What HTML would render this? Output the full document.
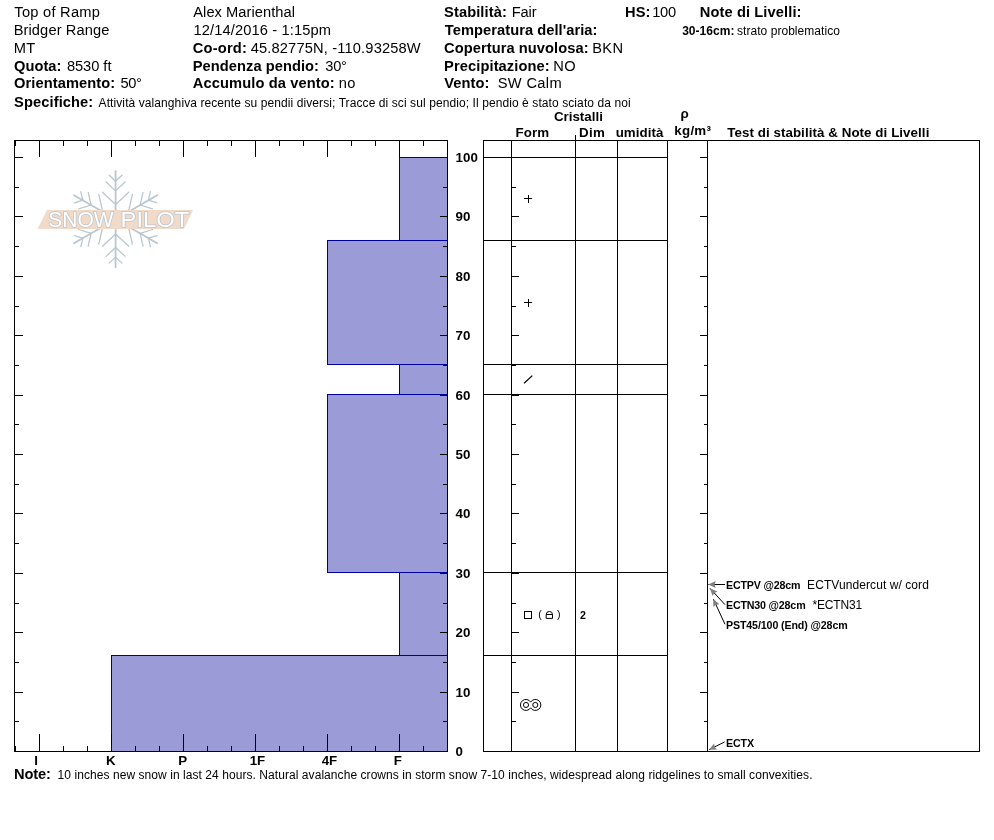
<!DOCTYPE html><html><head><meta charset="utf-8"><title>Snow Profile</title>
<style>html,body{margin:0;padding:0;background:#fff}body{width:994px;height:840px;overflow:hidden}svg{display:block}text{font-family:"Liberation Sans",Arial,sans-serif;fill:#000}.b{font-weight:bold}.l{stroke:#000;stroke-width:1;shape-rendering:crispEdges;fill:none}</style></head><body>
<svg width="994" height="840" viewBox="0 0 994 840">
<rect width="994" height="840" fill="#fff"/>
<text x="14.35" y="16.8" font-size="14.67" letter-spacing="0.245" xml:space="preserve">Top of Ramp</text>
<text x="13.65" y="34.7" font-size="14.67" letter-spacing="0.104" xml:space="preserve">Bridger Range</text>
<text x="13.65" y="52.7" font-size="14.67" letter-spacing="0.300" xml:space="preserve">MT</text>
<text x="14.10" y="70.6" font-size="14.67" class="b" letter-spacing="0.010" xml:space="preserve">Quota:</text>
<text x="66.90" y="70.6" font-size="14.67" letter-spacing="-0.042" xml:space="preserve">8530 ft</text>
<text x="14.10" y="88.4" font-size="14.67" class="b" letter-spacing="0.071" xml:space="preserve">Orientamento:</text>
<text x="120.50" y="88.4" font-size="14.67" letter-spacing="-0.350" xml:space="preserve">50°</text>
<text x="14.10" y="106.5" font-size="14.67" class="b" letter-spacing="0.095" xml:space="preserve">Specifiche:</text>
<text x="98.60" y="106.5" font-size="12" letter-spacing="0.088" xml:space="preserve">Attività valanghiva recente su pendii diversi; Tracce di sci sul pendio; Il pendio è stato sciato da noi</text>
<text x="193.30" y="16.8" font-size="14.67" letter-spacing="0.043" xml:space="preserve">Alex Marienthal</text>
<text x="193.60" y="34.7" font-size="14.67" letter-spacing="0.114" xml:space="preserve">12/14/2016 - 1:15pm</text>
<text x="192.80" y="52.7" font-size="14.67" class="b" letter-spacing="0.183" xml:space="preserve">Co-ord:</text>
<text x="250.65" y="52.7" font-size="14.67" letter-spacing="0.157" xml:space="preserve">45.82775N, -110.93258W</text>
<text x="192.80" y="70.6" font-size="14.67" class="b" letter-spacing="0.047" xml:space="preserve">Pendenza pendio:</text>
<text x="325.30" y="70.6" font-size="14.67" letter-spacing="-0.275" xml:space="preserve">30°</text>
<text x="192.80" y="88.4" font-size="14.67" class="b" letter-spacing="0.109" xml:space="preserve">Accumulo da vento:</text>
<text x="338.70" y="88.4" font-size="14.67" letter-spacing="0.300" xml:space="preserve">no</text>
<text x="444.10" y="16.8" font-size="14.67" class="b" letter-spacing="0.089" xml:space="preserve">Stabilità:</text>
<text x="511.75" y="16.8" font-size="14.67" letter-spacing="-0.117" xml:space="preserve">Fair</text>
<text x="444.85" y="34.7" font-size="14.67" class="b" letter-spacing="0.055" xml:space="preserve">Temperatura dell'aria:</text>
<text x="444.10" y="52.7" font-size="14.67" class="b" letter-spacing="0.061" xml:space="preserve">Copertura nuvolosa:</text>
<text x="592.25" y="52.7" font-size="14.67" letter-spacing="0.300" xml:space="preserve">BKN</text>
<text x="444.10" y="70.6" font-size="14.67" class="b" letter-spacing="0.096" xml:space="preserve">Precipitazione:</text>
<text x="553.25" y="70.6" font-size="14.67" letter-spacing="0.300" xml:space="preserve">NO</text>
<text x="444.35" y="88.4" font-size="14.67" class="b" letter-spacing="0.040" xml:space="preserve">Vento:</text>
<text x="497.65" y="88.4" font-size="14.67" letter-spacing="0.358" xml:space="preserve">SW Calm</text>
<text x="625.10" y="16.8" font-size="14.67" class="b" letter-spacing="-0.025" xml:space="preserve">HS:</text>
<text x="652.30" y="16.8" font-size="14.67" letter-spacing="-0.350" xml:space="preserve">100</text>
<text x="699.70" y="16.8" font-size="14.67" class="b" letter-spacing="0.110" xml:space="preserve">Note di Livelli:</text>
<text x="682.15" y="34.8" font-size="12" class="b" letter-spacing="0.036" xml:space="preserve">30-16cm:</text>
<text x="737.05" y="34.8" font-size="12" letter-spacing="0.042" xml:space="preserve">strato problematico</text>
<text x="14.10" y="778.7" font-size="14.67" class="b" letter-spacing="-0.150" xml:space="preserve">Note:</text>
<text x="57.60" y="778.7" font-size="12" letter-spacing="0.062" xml:space="preserve">10 inches new snow in last 24 hours. Natural avalanche crowns in storm snow 7-10 inches, widespread along ridgelines to small convexities.</text>
<text x="553.90" y="121.2" font-size="13.33" class="b" letter-spacing="0.013" xml:space="preserve">Cristalli</text>
<text x="515.45" y="137.0" font-size="13.33" class="b" letter-spacing="0.150" xml:space="preserve">Form</text>
<text x="579.05" y="137.0" font-size="13.33" class="b" letter-spacing="0.300" xml:space="preserve">Dim</text>
<text x="615.65" y="137.0" font-size="13.33" class="b" letter-spacing="0.058" xml:space="preserve">umidità</text>
<text x="680.55" y="118.0" font-size="13.33" class="b" xml:space="preserve">ρ</text>
<text x="674.30" y="134.6" font-size="13.33" class="b" letter-spacing="0.263" xml:space="preserve">kg/m³</text>
<text x="727.20" y="137.1" font-size="13.33" class="b" letter-spacing="0.072" xml:space="preserve">Test di stabilità &amp; Note di Livelli</text>
<text x="725.95" y="588.9" font-size="10.67" class="b" letter-spacing="-0.165" xml:space="preserve">ECTPV @28cm</text>
<text x="807.10" y="588.9" font-size="12" letter-spacing="0.079" xml:space="preserve">ECTVundercut w/ cord</text>
<text x="725.95" y="608.7" font-size="10.67" class="b" letter-spacing="-0.164" xml:space="preserve">ECTN30 @28cm</text>
<text x="812.45" y="608.7" font-size="12" letter-spacing="-0.158" xml:space="preserve">*ECTN31</text>
<text x="725.95" y="628.6" font-size="10.67" class="b" letter-spacing="-0.118" xml:space="preserve">PST45/100 (End) @28cm</text>
<text x="725.95" y="746.9" font-size="10.67" class="b" letter-spacing="-0.100" xml:space="preserve">ECTX</text>
<text x="34.35" y="764.9" font-size="13.33" class="b" xml:space="preserve">I</text>
<text x="106.05" y="764.9" font-size="13.33" class="b" xml:space="preserve">K</text>
<text x="178.25" y="764.9" font-size="13.33" class="b" xml:space="preserve">P</text>
<text x="249.85" y="764.9" font-size="13.33" class="b" letter-spacing="-0.350" xml:space="preserve">1F</text>
<text x="321.85" y="764.9" font-size="13.33" class="b" letter-spacing="-0.350" xml:space="preserve">4F</text>
<text x="393.75" y="764.9" font-size="13.33" class="b" xml:space="preserve">F</text>
<text x="580.05" y="619.0" font-size="10.67" class="b" xml:space="preserve">2</text>
<g id="logo">
<g stroke="#b9c7d0" stroke-width="1.3" stroke-linecap="round" fill="none">
<line x1="115.6" y1="219.2" x2="115.6" y2="171.2" stroke-width="1.8"/>
<line x1="115.6" y1="204.4" x2="128.7" y2="192.2"/>
<line x1="115.6" y1="204.4" x2="102.5" y2="192.2"/>
<line x1="115.6" y1="190.9" x2="125.1" y2="182.0"/>
<line x1="115.6" y1="190.9" x2="106.1" y2="182.0"/>
<line x1="115.6" y1="181.3" x2="122.0" y2="175.3"/>
<line x1="115.6" y1="181.3" x2="109.2" y2="175.3"/>
<line x1="115.6" y1="219.2" x2="157.2" y2="195.2" stroke-width="1.8"/>
<line x1="128.4" y1="211.8" x2="145.5" y2="217.0"/>
<line x1="128.4" y1="211.8" x2="132.4" y2="194.4"/>
<line x1="140.1" y1="205.0" x2="152.5" y2="208.9"/>
<line x1="140.1" y1="205.0" x2="143.0" y2="192.4"/>
<line x1="148.4" y1="200.2" x2="156.8" y2="202.8"/>
<line x1="148.4" y1="200.2" x2="150.4" y2="191.7"/>
<line x1="115.6" y1="219.2" x2="74.0" y2="195.2" stroke-width="1.8"/>
<line x1="102.8" y1="211.8" x2="98.8" y2="194.4"/>
<line x1="102.8" y1="211.8" x2="85.7" y2="217.0"/>
<line x1="91.1" y1="205.0" x2="88.2" y2="192.4"/>
<line x1="91.1" y1="205.0" x2="78.7" y2="208.9"/>
<line x1="82.8" y1="200.2" x2="80.8" y2="191.7"/>
<line x1="82.8" y1="200.2" x2="74.4" y2="202.8"/>
<line x1="115.6" y1="219.2" x2="74.0" y2="243.2" stroke-width="1.8"/>
<line x1="102.8" y1="226.6" x2="85.7" y2="221.4"/>
<line x1="102.8" y1="226.6" x2="98.8" y2="244.0"/>
<line x1="91.1" y1="233.3" x2="78.7" y2="229.5"/>
<line x1="91.1" y1="233.3" x2="88.2" y2="246.0"/>
<line x1="82.8" y1="238.1" x2="74.4" y2="235.6"/>
<line x1="82.8" y1="238.1" x2="80.8" y2="246.7"/>
<line x1="115.6" y1="219.2" x2="115.6" y2="267.2" stroke-width="1.8"/>
<line x1="115.6" y1="234.0" x2="102.5" y2="246.2"/>
<line x1="115.6" y1="234.0" x2="128.7" y2="246.2"/>
<line x1="115.6" y1="247.5" x2="106.1" y2="256.4"/>
<line x1="115.6" y1="247.5" x2="125.1" y2="256.4"/>
<line x1="115.6" y1="257.1" x2="109.2" y2="263.1"/>
<line x1="115.6" y1="257.1" x2="122.0" y2="263.1"/>
<line x1="115.6" y1="219.2" x2="157.2" y2="243.2" stroke-width="1.8"/>
<line x1="128.4" y1="226.6" x2="132.4" y2="244.0"/>
<line x1="128.4" y1="226.6" x2="145.5" y2="221.4"/>
<line x1="140.1" y1="233.3" x2="143.0" y2="246.0"/>
<line x1="140.1" y1="233.3" x2="152.5" y2="229.5"/>
<line x1="148.4" y1="238.2" x2="150.4" y2="246.7"/>
<line x1="148.4" y1="238.2" x2="156.8" y2="235.6"/>
</g>
<polygon points="47,210 193,210 184,229 37.5,229" fill="#f1dac8"/>
<text y="227.4" font-size="22" style="fill:#fff;stroke:#bcc4cb;stroke-width:1.5;font-weight:normal;paint-order:stroke"><tspan x="48.3" textLength="65.3" lengthAdjust="spacingAndGlyphs">SNOW</tspan> <tspan x="120.6" textLength="68.6" lengthAdjust="spacingAndGlyphs">PILOT</tspan></text>
</g>
<rect x="399.5" y="157.5" width="48.0" height="83.0" fill="#9b9bd7" stroke="#0000a0" stroke-width="1" shape-rendering="crispEdges"/>
<rect x="327.5" y="240.5" width="120.0" height="124.0" fill="#9b9bd7" stroke="#0000a0" stroke-width="1" shape-rendering="crispEdges"/>
<rect x="399.5" y="364.5" width="48.0" height="30.0" fill="#9b9bd7" stroke="#0000a0" stroke-width="1" shape-rendering="crispEdges"/>
<rect x="327.5" y="394.5" width="120.0" height="178.0" fill="#9b9bd7" stroke="#0000a0" stroke-width="1" shape-rendering="crispEdges"/>
<rect x="399.5" y="572.5" width="48.0" height="83.0" fill="#9b9bd7" stroke="#0000a0" stroke-width="1" shape-rendering="crispEdges"/>
<rect x="111.5" y="655.5" width="336.0" height="96.0" fill="#9b9bd7" stroke="#0000a0" stroke-width="1" shape-rendering="crispEdges"/>
<line class="l" x1="14" x2="448" y1="140.5" y2="140.5"/>
<line class="l" x1="14" x2="448" y1="751.5" y2="751.5"/>
<line class="l" x1="14.5" x2="14.5" y1="140" y2="752"/>
<line class="l" x1="447.5" x2="447.5" y1="140" y2="752"/>
<line class="l" x1="15.5" x2="15.5" y1="140" y2="146"/>
<line class="l" x1="15.5" x2="15.5" y1="746" y2="751"/>
<line class="l" x1="39.5" x2="39.5" y1="140" y2="157"/>
<line class="l" x1="39.5" x2="39.5" y1="734" y2="751"/>
<line class="l" x1="63.5" x2="63.5" y1="140" y2="146"/>
<line class="l" x1="63.5" x2="63.5" y1="746" y2="751"/>
<line class="l" x1="87.5" x2="87.5" y1="140" y2="146"/>
<line class="l" x1="87.5" x2="87.5" y1="746" y2="751"/>
<line class="l" x1="111.5" x2="111.5" y1="140" y2="157"/>
<line class="l" x1="111.5" x2="111.5" y1="734" y2="751"/>
<line class="l" x1="135.5" x2="135.5" y1="140" y2="146"/>
<line class="l" x1="135.5" x2="135.5" y1="746" y2="751"/>
<line class="l" x1="159.5" x2="159.5" y1="140" y2="146"/>
<line class="l" x1="159.5" x2="159.5" y1="746" y2="751"/>
<line class="l" x1="183.5" x2="183.5" y1="140" y2="157"/>
<line class="l" x1="183.5" x2="183.5" y1="734" y2="751"/>
<line class="l" x1="207.5" x2="207.5" y1="140" y2="146"/>
<line class="l" x1="207.5" x2="207.5" y1="746" y2="751"/>
<line class="l" x1="231.5" x2="231.5" y1="140" y2="146"/>
<line class="l" x1="231.5" x2="231.5" y1="746" y2="751"/>
<line class="l" x1="255.5" x2="255.5" y1="140" y2="157"/>
<line class="l" x1="255.5" x2="255.5" y1="734" y2="751"/>
<line class="l" x1="279.5" x2="279.5" y1="140" y2="146"/>
<line class="l" x1="279.5" x2="279.5" y1="746" y2="751"/>
<line class="l" x1="303.5" x2="303.5" y1="140" y2="146"/>
<line class="l" x1="303.5" x2="303.5" y1="746" y2="751"/>
<line class="l" x1="327.5" x2="327.5" y1="140" y2="157"/>
<line class="l" x1="327.5" x2="327.5" y1="734" y2="751"/>
<line class="l" x1="351.5" x2="351.5" y1="140" y2="146"/>
<line class="l" x1="351.5" x2="351.5" y1="746" y2="751"/>
<line class="l" x1="375.5" x2="375.5" y1="140" y2="146"/>
<line class="l" x1="375.5" x2="375.5" y1="746" y2="751"/>
<line class="l" x1="399.5" x2="399.5" y1="140" y2="157"/>
<line class="l" x1="399.5" x2="399.5" y1="734" y2="751"/>
<line class="l" x1="423.5" x2="423.5" y1="140" y2="146"/>
<line class="l" x1="423.5" x2="423.5" y1="746" y2="751"/>
<line class="l" x1="447.5" x2="447.5" y1="140" y2="146"/>
<line class="l" x1="447.5" x2="447.5" y1="746" y2="751"/>
<line class="l" x1="14" x2="19" y1="721.5" y2="721.5"/>
<line class="l" x1="443" x2="447" y1="721.5" y2="721.5"/>
<line class="l" x1="14" x2="23" y1="692.5" y2="692.5"/>
<line class="l" x1="440" x2="447" y1="692.5" y2="692.5"/>
<line class="l" x1="14" x2="19" y1="662.5" y2="662.5"/>
<line class="l" x1="443" x2="447" y1="662.5" y2="662.5"/>
<line class="l" x1="14" x2="23" y1="632.5" y2="632.5"/>
<line class="l" x1="440" x2="447" y1="632.5" y2="632.5"/>
<line class="l" x1="14" x2="19" y1="603.5" y2="603.5"/>
<line class="l" x1="443" x2="447" y1="603.5" y2="603.5"/>
<line class="l" x1="14" x2="23" y1="573.5" y2="573.5"/>
<line class="l" x1="440" x2="447" y1="573.5" y2="573.5"/>
<line class="l" x1="14" x2="19" y1="543.5" y2="543.5"/>
<line class="l" x1="443" x2="447" y1="543.5" y2="543.5"/>
<line class="l" x1="14" x2="23" y1="513.5" y2="513.5"/>
<line class="l" x1="440" x2="447" y1="513.5" y2="513.5"/>
<line class="l" x1="14" x2="19" y1="484.5" y2="484.5"/>
<line class="l" x1="443" x2="447" y1="484.5" y2="484.5"/>
<line class="l" x1="14" x2="23" y1="454.5" y2="454.5"/>
<line class="l" x1="440" x2="447" y1="454.5" y2="454.5"/>
<line class="l" x1="14" x2="19" y1="424.5" y2="424.5"/>
<line class="l" x1="443" x2="447" y1="424.5" y2="424.5"/>
<line class="l" x1="14" x2="23" y1="395.5" y2="395.5"/>
<line class="l" x1="440" x2="447" y1="395.5" y2="395.5"/>
<line class="l" x1="14" x2="19" y1="365.5" y2="365.5"/>
<line class="l" x1="443" x2="447" y1="365.5" y2="365.5"/>
<line class="l" x1="14" x2="23" y1="335.5" y2="335.5"/>
<line class="l" x1="440" x2="447" y1="335.5" y2="335.5"/>
<line class="l" x1="14" x2="19" y1="306.5" y2="306.5"/>
<line class="l" x1="443" x2="447" y1="306.5" y2="306.5"/>
<line class="l" x1="14" x2="23" y1="276.5" y2="276.5"/>
<line class="l" x1="440" x2="447" y1="276.5" y2="276.5"/>
<line class="l" x1="14" x2="19" y1="246.5" y2="246.5"/>
<line class="l" x1="443" x2="447" y1="246.5" y2="246.5"/>
<line class="l" x1="14" x2="23" y1="216.5" y2="216.5"/>
<line class="l" x1="440" x2="447" y1="216.5" y2="216.5"/>
<line class="l" x1="14" x2="19" y1="187.5" y2="187.5"/>
<line class="l" x1="443" x2="447" y1="187.5" y2="187.5"/>
<line class="l" x1="14" x2="23" y1="157.5" y2="157.5"/>
<line class="l" x1="440" x2="447" y1="157.5" y2="157.5"/>
<text x="455.6" y="755.7" font-size="13.33" class="b">0</text>
<text x="455.6" y="696.7" font-size="13.33" class="b">10</text>
<text x="455.6" y="636.7" font-size="13.33" class="b">20</text>
<text x="455.6" y="577.7" font-size="13.33" class="b">30</text>
<text x="455.6" y="517.7" font-size="13.33" class="b">40</text>
<text x="455.6" y="458.7" font-size="13.33" class="b">50</text>
<text x="455.6" y="399.7" font-size="13.33" class="b">60</text>
<text x="455.6" y="339.7" font-size="13.33" class="b">70</text>
<text x="455.6" y="280.7" font-size="13.33" class="b">80</text>
<text x="455.6" y="220.7" font-size="13.33" class="b">90</text>
<text x="455.6" y="161.7" font-size="13.33" class="b">100</text>
<line class="l" x1="483" x2="980" y1="140.5" y2="140.5"/>
<line class="l" x1="483" x2="980" y1="751.5" y2="751.5"/>
<line class="l" x1="483.5" x2="483.5" y1="140" y2="752"/>
<line class="l" x1="979.5" x2="979.5" y1="140" y2="752"/>
<line class="l" x1="511.5" x2="511.5" y1="140" y2="752"/>
<line class="l" x1="617.5" x2="617.5" y1="140" y2="752"/>
<line class="l" x1="667.5" x2="667.5" y1="140" y2="752"/>
<line class="l" x1="707.5" x2="707.5" y1="140" y2="752"/>
<line class="l" x1="575.5" x2="575.5" y1="135" y2="752"/>
<line class="l" x1="483" x2="667" y1="157.5" y2="157.5"/>
<line class="l" x1="483" x2="667" y1="240.5" y2="240.5"/>
<line class="l" x1="483" x2="667" y1="364.5" y2="364.5"/>
<line class="l" x1="483" x2="667" y1="394.5" y2="394.5"/>
<line class="l" x1="483" x2="667" y1="572.5" y2="572.5"/>
<line class="l" x1="483" x2="667" y1="655.5" y2="655.5"/>
<line class="l" x1="511" x2="516" y1="721.5" y2="721.5"/>
<line class="l" x1="704" x2="707" y1="721.5" y2="721.5"/>
<line class="l" x1="511" x2="519" y1="692.5" y2="692.5"/>
<line class="l" x1="700" x2="707" y1="692.5" y2="692.5"/>
<line class="l" x1="511" x2="516" y1="662.5" y2="662.5"/>
<line class="l" x1="704" x2="707" y1="662.5" y2="662.5"/>
<line class="l" x1="511" x2="519" y1="632.5" y2="632.5"/>
<line class="l" x1="700" x2="707" y1="632.5" y2="632.5"/>
<line class="l" x1="511" x2="516" y1="603.5" y2="603.5"/>
<line class="l" x1="704" x2="707" y1="603.5" y2="603.5"/>
<line class="l" x1="511" x2="519" y1="573.5" y2="573.5"/>
<line class="l" x1="700" x2="707" y1="573.5" y2="573.5"/>
<line class="l" x1="511" x2="516" y1="543.5" y2="543.5"/>
<line class="l" x1="704" x2="707" y1="543.5" y2="543.5"/>
<line class="l" x1="511" x2="519" y1="513.5" y2="513.5"/>
<line class="l" x1="700" x2="707" y1="513.5" y2="513.5"/>
<line class="l" x1="511" x2="516" y1="484.5" y2="484.5"/>
<line class="l" x1="704" x2="707" y1="484.5" y2="484.5"/>
<line class="l" x1="511" x2="519" y1="454.5" y2="454.5"/>
<line class="l" x1="700" x2="707" y1="454.5" y2="454.5"/>
<line class="l" x1="511" x2="516" y1="424.5" y2="424.5"/>
<line class="l" x1="704" x2="707" y1="424.5" y2="424.5"/>
<line class="l" x1="511" x2="519" y1="395.5" y2="395.5"/>
<line class="l" x1="700" x2="707" y1="395.5" y2="395.5"/>
<line class="l" x1="511" x2="516" y1="365.5" y2="365.5"/>
<line class="l" x1="704" x2="707" y1="365.5" y2="365.5"/>
<line class="l" x1="511" x2="519" y1="335.5" y2="335.5"/>
<line class="l" x1="700" x2="707" y1="335.5" y2="335.5"/>
<line class="l" x1="511" x2="516" y1="306.5" y2="306.5"/>
<line class="l" x1="704" x2="707" y1="306.5" y2="306.5"/>
<line class="l" x1="511" x2="519" y1="276.5" y2="276.5"/>
<line class="l" x1="700" x2="707" y1="276.5" y2="276.5"/>
<line class="l" x1="511" x2="516" y1="246.5" y2="246.5"/>
<line class="l" x1="704" x2="707" y1="246.5" y2="246.5"/>
<line class="l" x1="511" x2="519" y1="216.5" y2="216.5"/>
<line class="l" x1="700" x2="707" y1="216.5" y2="216.5"/>
<line class="l" x1="511" x2="516" y1="187.5" y2="187.5"/>
<line class="l" x1="704" x2="707" y1="187.5" y2="187.5"/>
<line class="l" x1="511" x2="519" y1="157.5" y2="157.5"/>
<line class="l" x1="700" x2="707" y1="157.5" y2="157.5"/>
<line class="l" x1="524" x2="532" y1="198.5" y2="198.5"/>
<line class="l" x1="528.5" x2="528.5" y1="195" y2="203"/>
<line class="l" x1="524" x2="532" y1="302.5" y2="302.5"/>
<line class="l" x1="528.5" x2="528.5" y1="299" y2="307"/>
<line x1="524.1" y1="383.3" x2="532.3" y2="375.6" stroke="#000" stroke-width="1.25"/>
<rect x="524.5" y="611.5" width="7" height="7" class="l"/>
<text x="538.3" y="618.4" font-size="10.67">(</text><text x="557" y="618.4" font-size="10.67">)</text>
<path d="M546.2 618.4V614.6A3.15 3.15 0 0 1 552.5 614.6V618.4ZM546.2 614.5H552.5" fill="none" stroke="#000" stroke-width="1"/>
<g fill="none" stroke="#000" stroke-width="1"><path d="M530.65 702.1A5.5 5.5 0 1 0 530.65 707.8A5.5 5.5 0 1 0 530.65 702.1Z"/><circle cx="526" cy="704.95" r="2.55"/><circle cx="535.3" cy="704.95" r="2.55"/></g>
<line x1="725" y1="584.5" x2="708.3" y2="584.5" stroke="#000" stroke-width="1"/>
<polygon points="708.3,584.5 715.7,581.1 714.6,584.5 715.7,587.9" fill="#808080"/>
<line x1="725" y1="604.7" x2="710" y2="588.3" stroke="#000" stroke-width="1"/>
<polygon points="710.0,588.3 717.5,591.5 714.2,592.9 712.5,596.1" fill="#808080"/>
<line x1="725" y1="624.3" x2="713.3" y2="599" stroke="#000" stroke-width="1"/>
<polygon points="713.3,599.0 719.5,604.3 715.9,604.7 713.3,607.1" fill="#808080"/>
<line x1="724.7" y1="741.9" x2="709" y2="749.7" stroke="#000" stroke-width="1"/>
<polygon points="709.0,749.7 714.1,743.4 714.6,746.9 717.1,749.5" fill="#808080"/>
</svg></body></html>
